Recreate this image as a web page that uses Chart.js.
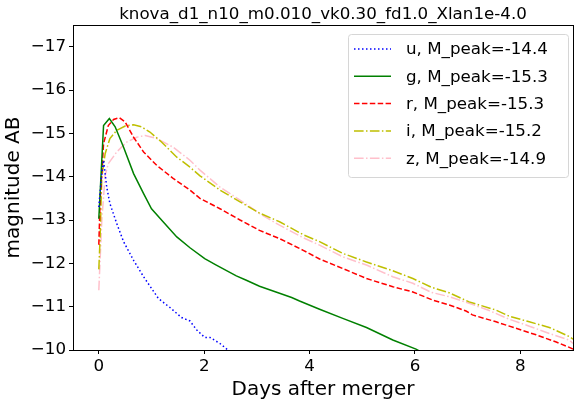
<!DOCTYPE html>
<html>
<head>
<meta charset="utf-8">
<script src="https://cdn.jsdelivr.net/npm/chart.js@4.4.1/dist/chart.umd.min.js"></script>
<style>
  html, body { margin: 0; padding: 0; background: #fff; }
  #wrap { width: 578px; height: 404px; }
</style>
</head>
<body>
<div id="wrap"><canvas id="lc"></canvas></div>
<script>
// light curve readings (days after merger, AB magnitude) per band
const chartTitle = 'knova_d1_n10_m0.010_vk0.30_fd1.0_Xlan1e-4.0';
const xTicks = [0, 2, 4, 6, 8];
const yTicks = [-17, -16, -15, -14, -13, -12, -11, -10];

const uDays = [0, 0.05, 0.09, 0.15, 0.21, 0.34, 0.47, 0.66, 0.85, 1.13, 1.35, 1.57, 1.73, 1.86, 2.01, 2.11, 2.30, 2.45, 2.7];
const uMag  = [-13.3, -14.0, -14.38, -13.76, -13.38, -12.92, -12.5, -12.07, -11.69, -11.19, -10.98, -10.75, -10.67, -10.46, -10.29, -10.29, -10.15, -10.0, -9.7];

const gDays = [0, 0.09, 0.2, 0.31, 0.47, 0.66, 0.85, 1.0, 1.22, 1.48, 1.73, 2.01, 2.23, 2.61, 2.80, 3.05, 3.43, 3.66, 3.81, 4.19, 4.63, 5.08, 5.58, 6.02, 6.2];
const gMag  = [-13.03, -15.18, -15.34, -15.15, -14.68, -14.07, -13.61, -13.26, -12.96, -12.61, -12.36, -12.11, -11.96, -11.71, -11.61, -11.47, -11.31, -11.21, -11.13, -10.94, -10.73, -10.52, -10.23, -10.02, -9.9];

const rDays = [0, 0.025, 0.09, 0.18, 0.28, 0.39, 0.5, 0.66, 0.85, 1.1, 1.41, 1.73, 1.92, 2.30, 2.68, 3.05, 3.43, 3.88, 4.19, 4.63, 5.08, 5.58, 5.96, 6.34, 6.65, 6.97, 7.09, 7.54, 7.92, 8.30, 8.67, 8.93, 9.0];
const rMag  = [-12.43, -13.46, -14.76, -15.18, -15.32, -15.36, -15.26, -14.91, -14.57, -14.26, -13.96, -13.69, -13.50, -13.26, -13.0, -12.76, -12.57, -12.30, -12.10, -11.88, -11.65, -11.46, -11.34, -11.15, -11.04, -10.90, -10.81, -10.65, -10.5, -10.35, -10.19, -10.06, -10.02];

const iDays = [0, 0.025, 0.057, 0.12, 0.21, 0.34, 0.5, 0.66, 0.81, 0.97, 1.19, 1.48, 1.70, 1.92, 2.30, 2.68, 3.05, 3.43, 3.88, 4.19, 4.63, 5.08, 5.58, 5.96, 6.31, 6.65, 7.03, 7.54, 7.79, 8.17, 8.55, 8.93, 9.0];
const iMag  = [-11.86, -12.61, -14.0, -14.53, -14.88, -15.07, -15.17, -15.2, -15.15, -15.03, -14.8, -14.45, -14.25, -14.02, -13.69, -13.42, -13.16, -12.96, -12.66, -12.5, -12.23, -12.03, -11.83, -11.65, -11.45, -11.32, -11.11, -10.92, -10.78, -10.65, -10.52, -10.31, -10.25];

const zDays = [0, 0.057, 0.12, 0.18, 0.34, 0.53, 0.72, 0.88, 1.1, 1.41, 1.73, 1.92, 2.30, 2.68, 3.05, 3.43, 3.88, 4.19, 4.63, 5.08, 5.58, 5.96, 6.31, 6.65, 7.03, 7.41, 7.79, 8.17, 8.55, 8.93, 9.0];
const zMag  = [-11.38, -13.0, -14.03, -14.3, -14.57, -14.8, -14.91, -14.95, -14.88, -14.68, -14.38, -14.15, -13.76, -13.46, -13.15, -12.88, -12.59, -12.42, -12.15, -11.96, -11.69, -11.54, -11.33, -11.23, -11.08, -10.91, -10.71, -10.55, -10.38, -10.23, -10.15];

const bandLabels = ['u, M_peak=-14.4', 'g, M_peak=-15.3', 'r, M_peak=-15.3', 'i, M_peak=-15.2', 'z, M_peak=-14.9'];

const FONT = 'DejaVu Sans';

function pts(xs, ys) {
    return xs.map((x, k) => ({ x: x, y: ys[k] }));
}

const bands = [
    { days: uDays, mag: uMag, color: '#0000ff', dash: [1.5, 2.5] },
    { days: gDays, mag: gMag, color: '#008000', dash: [] },
    { days: rDays, mag: rMag, color: '#ff0000', dash: [5.5, 2.4] },
    { days: iDays, mag: iMag, color: '#bfbf00', dash: [9.6, 2.4, 1.5, 2.4] },
    { days: zDays, mag: zMag, color: '#ffc0cb', dash: [9.6, 2.4, 1.5, 2.4] }
];

const datasets = bands.map((b, k) => ({
    label: bandLabels[k],
    data: pts(b.days, b.mag),
    borderColor: b.color,
    borderDash: b.dash,
    borderWidth: 1.5,
    pointRadius: 0,
    showLine: true,
    fill: false,
    tension: 0
}));

// frame, title and matplotlib style legend
const decorations = {
    id: 'decorations',
    afterDraw(chart) {
        const ctx = chart.ctx;
        const a = chart.chartArea;
        ctx.save();
        ctx.strokeStyle = '#000';
        ctx.lineWidth = 1;
        ctx.setLineDash([]);
        ctx.strokeRect(Math.round(a.left) + 0.5, Math.round(a.top) + 0.5, Math.round(a.right - a.left), Math.round(a.bottom - a.top));

        ctx.fillStyle = '#000';
        ctx.font = '16.7px "' + FONT + '"';
        ctx.textAlign = 'center';
        ctx.textBaseline = 'alphabetic';
        ctx.fillText(chartTitle, (a.left + a.right) / 2, 19);

        // legend box
        const bx = 348, by = 34, bw = 220, bh = 143;
        ctx.beginPath();
        ctx.roundRect(bx + 0.5, by + 0.5, bw, bh, 3);
        ctx.fillStyle = 'rgba(255,255,255,0.8)';
        ctx.fill();
        ctx.strokeStyle = '#d6d6d6';
        ctx.stroke();

        ctx.textAlign = 'left';
        ctx.textBaseline = 'middle';
        bands.forEach((b, k) => {
            const y = 49 + k * 27.3;
            ctx.beginPath();
            ctx.setLineDash(b.dash);
            ctx.strokeStyle = b.color;
            ctx.lineWidth = 1.5;
            ctx.moveTo(354, y);
            ctx.lineTo(391, y);
            ctx.stroke();
            ctx.setLineDash([]);
            ctx.fillStyle = '#000';
            ctx.fillText(bandLabels[k], 406, y + 1);
        });
        ctx.restore();
    }
};

new Chart(document.getElementById('lc'), {
    type: 'scatter',
    data: { datasets: datasets },
    options: {
        responsive: true,
        maintainAspectRatio: false,
        animation: false,
        layout: { padding: { top: 25, right: 5, left: 0, bottom: 0 } },
        plugins: {
            legend: { display: false },
            title: { display: false },
            tooltip: { enabled: false }
        },
        scales: {
            x: {
                type: 'linear',
                min: -0.49,
                max: 9.0,
                afterBuildTicks: s => { s.ticks = xTicks.map(v => ({ value: v })); },
                afterFit: s => { s.height = 54; },
                grid: { drawOnChartArea: false, tickLength: 4, tickColor: '#000' },
                border: { color: '#000' },
                ticks: { color: '#000', font: { family: FONT, size: 16.7 }, padding: 3, maxRotation: 0 },
                title: { display: true, text: 'Days after merger', color: '#000', font: { family: FONT, size: 20 }, padding: { top: 0, bottom: 2 } }
            },
            y: {
                type: 'linear',
                reverse: true,
                min: -17.5,
                max: -10,
                afterBuildTicks: s => { s.ticks = yTicks.map(v => ({ value: v })); },
                afterFit: s => { s.width = 73; },
                grid: { drawOnChartArea: false, tickLength: 4, tickColor: '#000' },
                border: { color: '#000' },
                ticks: {
                    color: '#000',
                    font: { family: FONT, size: 16.7 },
                    padding: 3,
                    callback: v => (v < 0 ? '\u2212' + Math.abs(v) : String(v))
                },
                title: { display: true, text: 'magnitude AB', color: '#000', font: { family: FONT, size: 20 }, padding: { top: 2, bottom: 0 } }
            }
        }
    },
    plugins: [decorations]
});
</script>
</body>
</html>
